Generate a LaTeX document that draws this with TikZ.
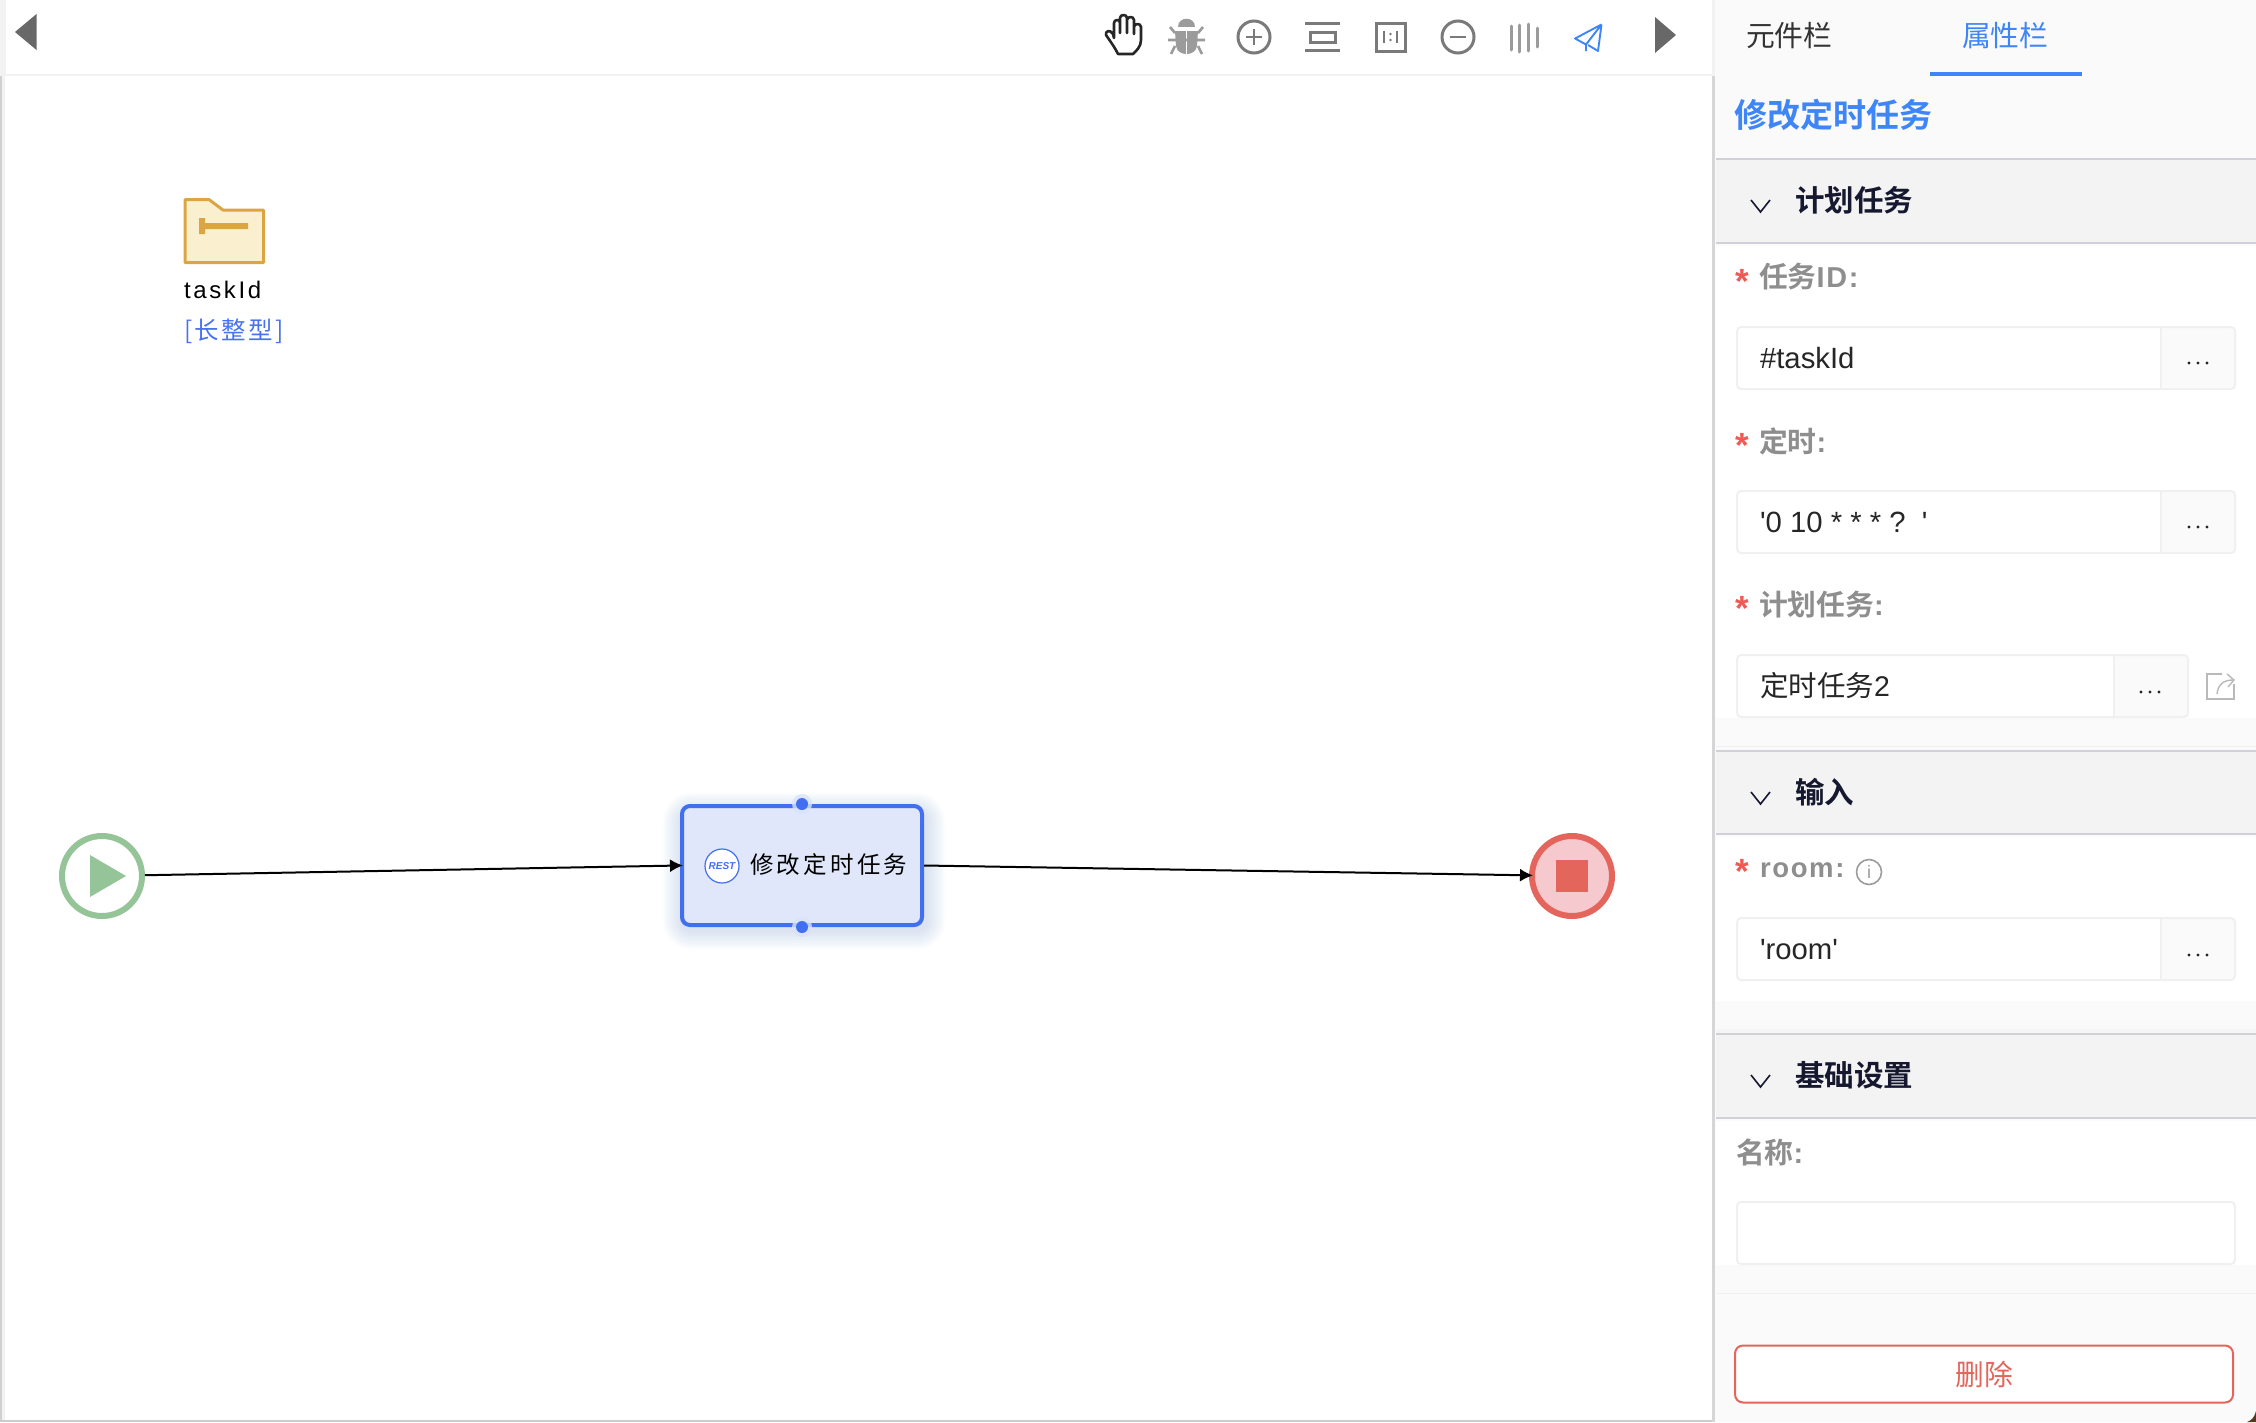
\documentclass[tikz,border=0pt]{standalone}
\usepackage{fontspec}
\usetikzlibrary{arrows.meta}
\setmainfont{Liberation Sans}
\newfontfamily\cjk{Noto Sans CJK SC}
\newfontfamily\cjkmed{Noto Sans CJK SC}[UprightFont=*,BoldFont=* Bold]
\newfontfamily\latmed[LetterSpace=6]{Liberation Sans}
\newfontfamily\cjkspaced[LetterSpace=14]{Noto Sans CJK SC}
\newfontfamily\cjktype[LetterSpace=10]{Noto Sans CJK SC}
\newfontfamily\latspaced[LetterSpace=11]{Liberation Sans}
\newcommand{\pxs}[1]{\fontsize{#1}{#1}\selectfont}
\definecolor{tabblue}{HTML}{3E85F7}
\definecolor{nodeblue}{HTML}{416FF0}
\definecolor{nodefill}{HTML}{E0E7FA}
\definecolor{panelbg}{HTML}{FAFAFA}
\definecolor{headbg}{HTML}{F3F3F4}
\definecolor{headline}{HTML}{D0D0D8}
\definecolor{boxline}{HTML}{F0F0F2}
\definecolor{labelgray}{HTML}{8E8E8E}
\definecolor{iconA}{HTML}{7A7A7A}
\definecolor{iconB}{HTML}{9B9B9B}
\definecolor{navy}{HTML}{15182E}
\definecolor{redstar}{HTML}{F05A55}
\definecolor{redline}{HTML}{E3655B}
\definecolor{redfill}{HTML}{F6C9CF}
\definecolor{greenev}{HTML}{95C498}
\definecolor{folderline}{HTML}{DCA544}
\definecolor{folderfill}{HTML}{FAF0CF}
\definecolor{vartype}{HTML}{4A72F0}
\tikzset{
  txt/.style={inner sep=0pt,outer sep=0pt,anchor=west},
  sectitle/.style={txt,text=navy,font=\cjkmed\bfseries\pxs{29.5}},
  fieldlabel/.style={txt,text=labelgray,font=\cjkmed\bfseries\pxs{28.8}},
  starmark/.style={txt,text=redstar,font=\latmed\bfseries\pxs{35}},
  fieldtext/.style={txt,text=black!85,font=\pxs{29.3}},
  chev/.style={draw=navy,line width=1.6pt,line join=miter},
  dotpt/.style={fill=black!85},
  flowline/.style={draw=black,line width=2pt,-{Latex[length=13pt,width=13pt]}},
  iconline/.style={draw=iconA,line width=3pt},
}
% y1 y2 xright xsep
\newcommand{\inputrow}[4]{%
  \fill[panelbg,rounded corners=3pt] (#4,#1) rectangle (#3,#2);
  \fill[white,rounded corners=3pt] (1737,#1) rectangle (#4,#2);
  \draw[boxline,line width=2pt,rounded corners=4pt] (1737,#1) rectangle (#3,#2);
  \draw[boxline,line width=2pt] (#4,#1) -- (#4,#2);
}
\newcommand{\threedots}[2]{%
  \foreach \d in {-9,0,9}{\fill[dotpt] ({#1+\d},#2) circle (1.6pt);}
}
\newcommand{\chevron}[1]{%
  \draw[chev] (1751,#1) -- (1760.5,{#1+12}) -- (1770,#1);
}
\newcommand{\sechead}[2]{%
  \fill[headbg] (1716,#1) rectangle (2256,#2);
  \draw[headline,line width=2pt] (1716,#1) -- (2256,#1);
  \draw[headline,line width=2pt] (1716,#2) -- (2256,#2);
}
\begin{document}
\begin{tikzpicture}[x=1pt,y=-1pt]
\useasboundingbox (0,0) rectangle (2256,1422);
\fill[white] (0,0) rectangle (2256,1422);
% ---- frame of the canvas
\fill[black!5] (0,0) rectangle (6,74);
\fill[black!18] (0,76) rectangle (2,1422);
\fill[black!5] (2,76) rectangle (5,1422);
\fill[black!5] (0,74) rectangle (1713,76);
\fill[black!20] (0,1420) rectangle (1713,1422);
% ---- right panel
\fill[panelbg] (1713,0) rectangle (2256,1422);
\fill[black!5] (1712,0) rectangle (1715,76);
\fill[black!16] (1712,76) rectangle (1715,1422);
\fill[black!55!brown] (2256,1422) -- (2247,1422) .. controls (2252,1420) and (2254,1418) .. (2256,1411) -- cycle;
% tabs
\node[txt,text=black!80,font=\cjk\pxs{28.8}] (tabparts) at (1746,36) {元件栏};
\node[txt,text=tabblue,font=\cjk\pxs{28.8}] (tabprops) at (1962,36) {属性栏};
\fill[tabblue] (1930,72) rectangle (2082,76);
\node[txt,text=tabblue,font=\cjkmed\bfseries\pxs{33}] (paneltitle) at (1734,115) {修改定时任务};
% section 1
\sechead{159}{243}
\fill[white] (1716,246) rectangle (2256,718);
\fill[panelbg] (1716,718) rectangle (2256,746);
\draw[black!6,line width=1pt] (1716,746) -- (2256,746);
\chevron{200}
\node[sectitle] (sec1) at (1795,200) {计划任务};
\node[starmark] (star1) at (1735,281) {*};
\node[fieldlabel] (lab1) at (1759,277) {任务{\latmed\bfseries ID:}};
\inputrow{327}{389}{2235}{2161}
\node[fieldtext] (val1) at (1760,358) {\#taskId};
\threedots{2198}{363}
\node[starmark] (star2) at (1735,445) {*};
\node[fieldlabel] (lab2) at (1759,441) {定时{\latmed\bfseries :}};
\inputrow{491}{553}{2235}{2161}
\node[fieldtext] (val2) at (1760,522) {\textquotesingle 0 10 * * * ?\ \ \textquotesingle};
\threedots{2198}{527}
\node[starmark] (star3) at (1735,608) {*};
\node[fieldlabel] (lab3) at (1759,605) {计划任务{\latmed\bfseries :}};
\inputrow{655}{717}{2188}{2114}
\node[fieldtext,font=\cjk\pxs{28.5}] (val3) at (1760,686) {定时任务\rmfamily 2};
\threedots{2150}{692}
% share icon
\draw[iconB!70,line width=1.6pt] (2222,674) -- (2207,674) -- (2207,699) -- (2234,699) -- (2234,684);
\draw[iconB!70,line width=1.4pt] (2217,694) .. controls (2218,684) and (2224,680) .. (2233,680);
\draw[iconB!70,line width=1.4pt] (2227,674) -- (2234,680) -- (2228,687);
% section 2
\sechead{751}{834}
\fill[white] (1716,837) rectangle (2256,1001);
\fill[panelbg] (1716,1001) rectangle (2256,1029);
\fill[black!4] (1716,1029) rectangle (2256,1033);
\chevron{792}
\node[sectitle] (sec2) at (1795,792) {输入};
\node[starmark] (star4) at (1735,871) {*};
\node[txt,text=labelgray,font=\latmed\bfseries\pxs{27.5}] (lab4) at (1760,870) {room:};
\node[draw=iconB,line width=1.6pt,circle,minimum size=25pt,inner sep=0pt,text=iconB,font=\pxs{18}] (info) at (1869,872) {i};
\inputrow{918}{980}{2235}{2161}
\node[fieldtext] (val4) at (1760,950) {\textquotesingle room\textquotesingle};
\threedots{2198}{955}
% section 3
\sechead{1034}{1118}
\fill[white] (1716,1121) rectangle (2256,1265);
\fill[panelbg] (1716,1265) rectangle (2256,1293);
\draw[black!6,line width=1pt] (1716,1293) -- (2256,1293);
\chevron{1075}
\node[sectitle] (sec3) at (1795,1075) {基础设置};
\node[fieldlabel] (lab5) at (1736,1152) {名称{\latmed\bfseries :}};
\draw[boxline,line width=2pt,fill=white,rounded corners=4pt] (1737,1202) rectangle (2235,1264);
% delete button
\node[draw=redline,fill=white,line width=2pt,rounded corners=8pt,minimum width=498pt,minimum height=57pt,inner sep=0pt,text=redline,font=\cjk\pxs{28.8}] (delbtn) at (1984,1374) {\raisebox{-2pt}{删除}};
% ---- toolbar
\fill[iconA!85!black] (36.5,14) -- (36.5,50) -- (15,32) -- cycle;
\fill[iconA!85!black] (1655,17) -- (1655,53) -- (1676,35) -- cycle;
% hand
\draw[black!85,line width=2.6pt,line join=round,line cap=round] (1118,54) .. controls (1114,46) and (1110,41) .. (1106,35) .. controls (1105,31) and (1110,29) .. (1113,34) -- (1114,38) -- (1114,23) .. controls (1114,19) and (1120,19) .. (1120,23) -- (1120,33) -- (1120,18) .. controls (1120,14) and (1127,14) .. (1127,18) -- (1127,33) -- (1127,20) .. controls (1127,16) and (1134,16) .. (1134,20) -- (1134,34) -- (1134,27) .. controls (1134,23) and (1141,23) .. (1141,27) -- (1141,40) .. controls (1141,47) and (1136,51) .. (1133,54) -- cycle;
% bug
\fill[iconB] (1178,27) .. controls (1178,16) and (1195,16) .. (1195,27) -- cycle;
\fill[iconB] (1175,31) -- (1198,31) -- (1197,46) .. controls (1196,52) and (1191,54) .. (1186.5,54) .. controls (1182,54) and (1177,52) .. (1176,46) -- cycle;
\draw[white,line width=1.6pt] (1186.5,31) -- (1186.5,54);
\draw[iconB,line width=2.6pt] (1175,33) -- (1170,27) (1198,33) -- (1203,27) (1168,40) -- (1205,40) (1175,46) -- (1171,54) (1198,46) -- (1202,54);
% plus circle
\node[draw=iconA,line width=3pt,circle,minimum size=32pt,inner sep=0pt] (zoomin) at (1254,37) {};
\draw[iconA,line width=2.2pt] (1246,37) -- (1262,37) (1254,29) -- (1254,45);
% fit height
\draw[iconline] (1305,23.5) -- (1340,23.5) (1305,50) -- (1340,50);
\draw[iconline] (1310,32) rectangle (1335,42);
% one to one
\draw[iconline] (1376,23) rectangle (1405,51);
\draw[iconA,line width=2.2pt] (1384,31) -- (1384,43) (1397,31) -- (1397,43);
\fill[iconA] (1390.5,34) circle (1.3pt) (1390.5,40) circle (1.3pt);
% minus circle
\node[draw=iconA,line width=3pt,circle,minimum size=32pt,inner sep=0pt] (zoomout) at (1458,37) {};
\draw[iconA,line width=2.2pt] (1450,37) -- (1466,37);
% bars
\draw[iconB,line width=3pt,line cap=round] (1511,26) -- (1511,50) (1519.5,25) -- (1519.5,52) (1528.5,24) -- (1528.5,51) (1537,28) -- (1537,47);
% plane
\draw[tabblue,line width=1.9pt,line join=round] (1601.5,24.5) -- (1575,38.5) -- (1586,44.5) -- (1586,51) (1601.5,24.5) -- (1598,51) -- (1588,45) (1601.5,24.5) -- (1586,44.5);
% ---- canvas content: variable
\draw[folderline,fill=folderfill,line width=3pt,line join=round] (185,199.5) -- (209,199.5) -- (223,210) -- (263.5,210) -- (263.5,262.5) -- (185,262.5) -- cycle;
\fill[folderline] (199,218) rectangle (205,234) (205,223) rectangle (248,229);
\node[txt,text=black,font=\latspaced\pxs{24}] (varname) at (184,290) {taskId};
\node[txt,text=vartype,font=\cjktype\pxs{24.5}] (vartypel) at (184,331) {[长整型]};
% ---- flow
\node[draw=greenev,fill=white,line width=6pt,circle,minimum size=80pt,inner sep=0pt] (startev) at (102,876) {};
\fill[greenev] (90,855) -- (126,876) -- (90,897) -- cycle;
\node[draw=redline,fill=redfill,line width=6pt,circle,minimum size=80pt,inner sep=0pt] (endev) at (1572,876) {};
\node[fill=redline,minimum size=32pt,inner sep=0pt] (endsq) at (endev.center) {};
\foreach \i in {1,...,14}{
  \pgfmathsetmacro{\gr}{\i*1.4}
  \pgfmathsetmacro{\cr}{10+\i*1.4}
  \fill[nodeblue,opacity=0.012,rounded corners=\cr pt] ({682-\gr},{812-\gr}) rectangle ({926+\gr},{930+\gr});
}
\node[draw=nodeblue,fill=nodefill,line width=4pt,rounded corners=8pt,minimum width=240pt,minimum height=119pt,inner sep=0pt] (task) at (802,865.5) {};
\fill[nodeblue!20,opacity=.8] (task.north) circle (10pt) (task.south) circle (10pt);
\fill[nodeblue] (802,804) circle (6pt) (802,927) circle (6pt);
\node[draw=nodeblue,fill=white,line width=1.2pt,circle,minimum size=34pt,inner sep=0pt,text=nodeblue,font=\bfseries\itshape\pxs{10}] (resticon) at (722,866) {REST};
\node[txt,text=black,font=\cjkspaced\pxs{23.5}] (tasklabel) at (750,865) {修改定时任务};
\draw[flowline,shorten >=-3pt] (startev) -- (task.west);
\draw[flowline,shorten >=-4pt] (task.east) -- (endev);
\end{tikzpicture}
\end{document}
